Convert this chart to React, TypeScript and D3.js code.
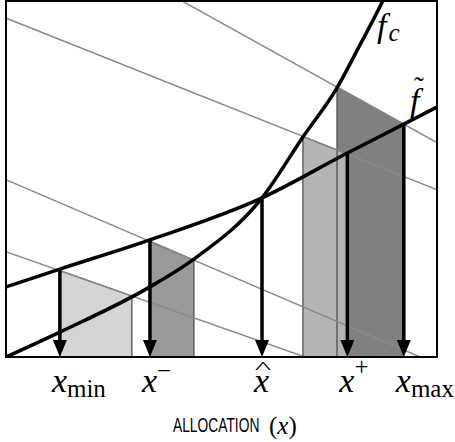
import React from 'react';
import * as d3 from 'd3';

// f-tilde curve (data units)
const fTildeX = [0, 12.5, 33.4, 59.4, 79.2, 92.3, 100];
const fTildeY = [19.7, 24.7, 32.9, 44.7, 57.3, 65.4, 70.2];
// f_c curve
const fcX = [0, 12.5, 33.4, 43.6, 59.4, 68.9, 76.8, 82.1, 87.5, 89.6];
const fcY = [0, 7.0, 19.7, 27.5, 44.7, 61.8, 75.6, 87.6, 100.3, 105.9];
// allocations (arrows + tick labels)
const allocationX = [12.5, 33.4, 59.4, 79.2, 92.3];
const allocationScript = ['min', '\u2212', '', '+', 'max'];
const allocationKind = ['sub', 'sup', 'hat', 'sup', 'sub'];
// gray iso lines, two points each
const isoX0 = [40.4, 0, 0.2, 0.2];
const isoY0 = [100.3, 95.2, 49.7, 29.5];
const isoX1 = [92.3, 79.2, 96.1, 69.4];
const isoY1 = [65.4, 57.0, 0, 0];
// shaded regions
const regionX0 = [12.5, 33.4, 76.8, 68.9];
const regionX1 = [29.2, 43.6, 92.3, 79.2];
const regionIso = [3, 2, 0, 1];
const regionFill = ['#d4d4d4', '#9a9a9a', '#808080', '#b4b4b4'];

const W = 455;
const H = 442;
const L = 6, R = 437, T = 1, B = 357;

export default function App() {
  const x = d3.scaleLinear().domain([0, 100]).range([L, R]);
  const y = d3.scaleLinear().domain([0, 100]).range([B, T]);

  const isoAt = (i: number, xv: number) =>
    isoY0[i] + ((isoY1[i] - isoY0[i]) * (xv - isoX0[i])) / (isoX1[i] - isoX0[i]);
  const fTildeAt = d3.scaleLinear().domain(fTildeX).range(fTildeY);

  const line = d3
    .line<[number, number]>()
    .x((d) => x(d[0]))
    .y((d) => y(d[1]))
    .curve(d3.curveMonotoneX);

  const fTildePath = line(fTildeX.map((v, i) => [v, fTildeY[i]] as [number, number])) || '';
  const fcPath = line(fcX.map((v, i) => [v, fcY[i]] as [number, number])) || '';

  const regionPts = (k: number) => {
    const i = regionIso[k];
    const a = regionX0[k];
    const b = regionX1[k];
    return [
      [x(a), y(0)],
      [x(a), y(isoAt(i, a))],
      [x(b), y(isoAt(i, b))],
      [x(b), y(0)],
    ]
      .map((p) => p.join(','))
      .join(' ');
  };

  const headW = 14;
  const headH = 17;
  const serif = "'Liberation Serif', 'Times New Roman', serif";

  return (
    <svg
      width={W}
      height={H}
      style={{ position: 'absolute', left: 0, top: 0, background: '#fff' }}
    >
      <defs>
        <clipPath id="plot">
          <rect x={L} y={T} width={R - L} height={B - T} />
        </clipPath>
      </defs>
      <rect x={0} y={0} width={W} height={H} fill="#fff" />
      <g clipPath="url(#plot)">
        {regionFill.map((f, k) => (
          <polygon key={'r' + k} points={regionPts(k)} fill={f} stroke="none" />
        ))}
        {regionFill.map((f, k) => (
          <polygon
            key={'ro' + k}
            points={regionPts(k)}
            fill="none"
            stroke="#505050"
            strokeWidth={1.3}
          />
        ))}
        {isoX0.map((_, i) => (
          <line
            key={'iso' + i}
            x1={x(-5)}
            y1={y(isoAt(i, -5))}
            x2={x(105)}
            y2={y(isoAt(i, 105))}
            stroke="#8a8a8a"
            strokeWidth={1.5}
          />
        ))}
        <path d={fcPath} fill="none" stroke="#000" strokeWidth={3.5} />
        <path d={fTildePath} fill="none" stroke="#000" strokeWidth={3.5} />
        {allocationX.map((a, i) => {
          const px = x(a);
          return (
            <g key={'a' + i}>
              <line
                x1={px}
                x2={px}
                y1={y(fTildeAt(a))}
                y2={B - headH + 2}
                stroke="#000"
                strokeWidth={3.5}
              />
              <polygon
                points={`${px - headW / 2},${B - headH} ${px + headW / 2},${B - headH} ${px},${B}`}
                fill="#000"
              />
            </g>
          );
        })}
      </g>
      <rect
        x={L}
        y={T}
        width={R - L}
        height={B - T}
        fill="none"
        stroke="#000"
        strokeWidth={2}
      />

      {/* curve labels */}
      <text x={377} y={37} fontFamily={serif} fontSize={34} fontStyle="italic">
        f
        <tspan fontSize={25} dy={4} dx={2}>
          c
        </tspan>
      </text>
      <text x={410} y={112} fontFamily={serif} fontSize={34} fontStyle="italic">
        f
      </text>
      <text x={419} y={97} fontFamily={serif} fontSize={30} textAnchor="middle">
        {'\u02DC'}
      </text>

      {/* allocation tick labels */}
      {allocationX.map((a, i) => {
        const px = x(a);
        const kind = allocationKind[i];
        return (
          <g key={'lab' + i}>
            <text x={px - 8} y={392} fontFamily={serif} fontSize={34}>
              <tspan fontStyle="italic">x</tspan>
              {kind === 'sub' && (
                <tspan fontSize={25} dy={5}>
                  {allocationScript[i]}
                </tspan>
              )}
              {kind === 'sup' && (
                <tspan fontSize={25} dy={allocationScript[i] === '+' ? -17 : -13}>
                  {allocationScript[i]}
                </tspan>
              )}
            </text>
            {kind === 'hat' && (
              <text
                transform={`translate(${px + 1},373) scale(2.2,1)`}
                fontFamily={serif}
                fontSize={16}
                textAnchor="middle"
              >
                ^
              </text>
            )}
          </g>
        );
      })}

      {/* axis title */}
      <text
        transform="translate(173,432) scale(0.69,1)"
        fontFamily="'Liberation Sans', Arial, sans-serif"
        fontSize={20}
      >
        ALLOCATION
      </text>
      <text x={269} y={434} fontFamily={serif} fontSize={25}>
        (<tspan fontStyle="italic">x</tspan>)
      </text>
    </svg>
  );
}
